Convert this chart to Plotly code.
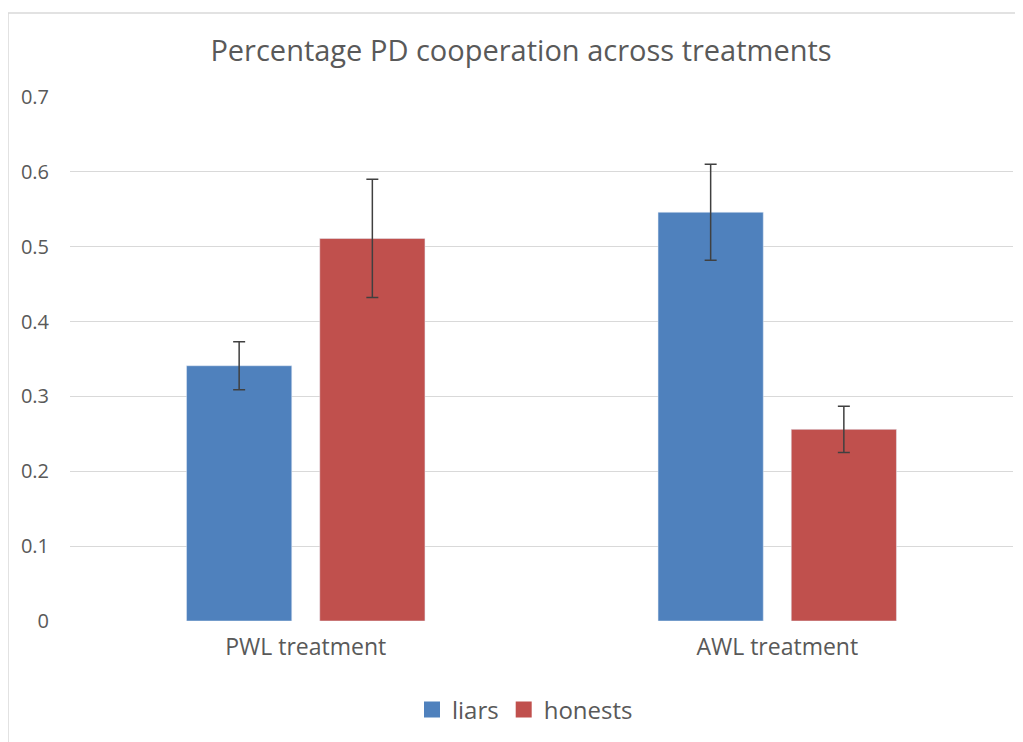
import plotly.graph_objects as go

categories = ["PWL treatment", "AWL treatment"]
liars = [0.341, 0.546]
liars_err = [0.032, 0.064]
honests = [0.511, 0.256]
honests_err = [0.079, 0.031]
y_ticks = [0, 0.1, 0.2, 0.3, 0.4, 0.5, 0.6, 0.7]
y_tick_labels = ["0", "0.1", "0.2", "0.3", "0.4", "0.5", "0.6", "0.7"]

# page is offset by the browser's 8px body margin
OFF = 8
W, H = 1023 - OFF, 742 - OFF
L, R, T, B = 70 - OFF, 10, 97 - OFF, 121
pw, ph = W - L - R, H - T - B

def px_x(x):  # page pixel -> paper
    return (x - OFF - L) / pw

def px_y(y):
    return (H - B - (y - OFF)) / ph

BLUE, RED = "#4F81BD", "#C0504D"
err_style = dict(type="data", color="#404040", thickness=1.5, width=6)
fig = go.Figure()
fig.add_trace(go.Bar(name="liars", x=categories, y=liars, marker_color=BLUE,
                     error_y=dict(array=liars_err, **err_style), showlegend=False))
fig.add_trace(go.Bar(name="honests", x=categories, y=honests, marker_color=RED,
                     error_y=dict(array=honests_err, **err_style), showlegend=False))
# legend entries with larger square swatches
for name, col in [("liars", BLUE), ("honests", RED)]:
    fig.add_trace(go.Scatter(name=name, x=[None], y=[None], mode="markers",
                             marker=dict(symbol="square", size=16, color=col),
                             showlegend=True))

font_family = "Open Sans, DejaVu Sans, sans-serif"
fig.update_layout(
    width=W, height=H,
    margin=dict(l=L, r=R, t=T, b=B, autoexpand=False),
    paper_bgcolor="white", plot_bgcolor="white",
    barmode="group", bargap=0.435, bargroupgap=0.21,
    font=dict(family=font_family, color="#595959", size=16),
    title=dict(text="Percentage PD cooperation across treatments",
               x=(521 - OFF) / W, xanchor="center", xref="container",
               y=1 - (51 - OFF) / H, yanchor="middle", yref="container",
               font=dict(size=29, color="#595959", family=font_family)),
    xaxis=dict(showgrid=False, zeroline=False, showline=False, ticks="",
               ticklabelstandoff=10,
               tickfont=dict(size=23, color="#595959")),
    yaxis=dict(range=[0, 0.7], tickvals=y_ticks, ticktext=y_tick_labels,
               showgrid=True, gridcolor="#d9d9d9", gridwidth=1.3, zeroline=False,
               showline=False, ticks="", ticklabelstandoff=20,
               tickfont=dict(size=20, color="#595959")),
    legend=dict(orientation="h", x=px_x(525), xanchor="center",
                y=px_y(710), yanchor="middle",
                font=dict(size=24, color="#595959"), itemwidth=30,
                traceorder="normal"),
    shapes=[
        dict(type="line", xref="paper", yref="paper", x0=px_x(8), x1=px_x(8),
             y0=px_y(760), y1=px_y(13), line=dict(color="#d9d9d9", width=1.5)),
        dict(type="line", xref="paper", yref="paper", x0=px_x(8), x1=px_x(1040),
             y0=px_y(13), y1=px_y(13), line=dict(color="#d9d9d9", width=1.5)),
    ],
)
fig.write_html("out.html")
